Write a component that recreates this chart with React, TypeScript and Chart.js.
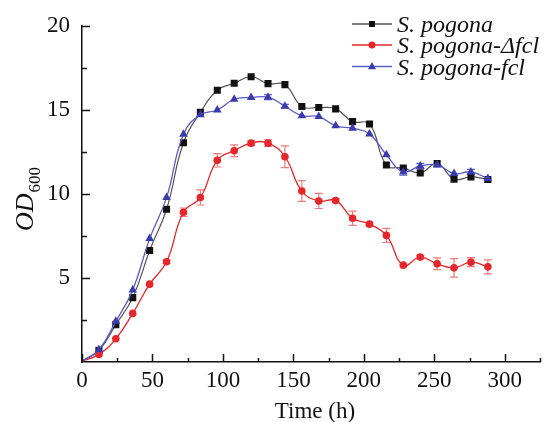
import { useEffect, useRef } from 'react';
import { Chart, registerables } from 'chart.js';
Chart.register(...registerables);

const timeH = [0, 12, 24, 36, 48, 60, 72, 84, 96, 108, 120, 132, 144, 156, 168, 180, 192, 204, 216, 228, 240, 252, 264, 276, 288];
const pogona = [0.05, 0.69, 2.22, 3.83, 6.63, 9.09, 13.04, 14.85, 16.17, 16.58, 16.97, 16.56, 16.5, 15.2, 15.14, 15.06, 14.3, 14.16, 11.72, 11.54, 11.25, 11.8, 10.88, 11.01, 10.86];
const deltaFcl = [0.05, 0.45, 1.38, 2.89, 4.63, 5.96, 8.91, 9.79, 12.0, 12.57, 13.02, 13.02, 12.21, 10.17, 9.58, 9.6, 8.55, 8.2, 7.53, 5.76, 6.24, 5.84, 5.6, 5.94, 5.66];
const deltaFclErr = [0, 0, 0, 0, 0, 0.1, 0.25, 0.45, 0.4, 0.35, 0.15, 0.2, 0.65, 0.62, 0.45, 0.12, 0.42, 0.1, 0.42, 0, 0.1, 0.35, 0.55, 0.27, 0.42];
const fcl = [0.05, 0.73, 2.42, 4.29, 7.34, 9.78, 13.55, 14.71, 14.99, 15.63, 15.73, 15.75, 15.22, 14.65, 14.6, 14.05, 13.9, 13.57, 12.33, 11.31, 11.66, 11.72, 11.21, 11.31, 10.91];
const fclErr = [0, 0, 0, 0, 0, 0, 0, 0, 0, 0, 0, 0.15, 0.1, 0, 0, 0, 0, 0, 0, 0.2, 0.15, 0, 0, 0.15, 0];
const seriesNames = ['S. pogona', 'S. pogona-\u0394fcl', 'S. pogona-fcl'];
const xTickLabels = [0, 50, 100, 150, 200, 250, 300];
const yTickLabels = [5, 10, 15, 20];
const xMinorTicks = [25, 75, 125, 175, 225, 275, 325];
const yMinorTicks = [2.5, 7.5, 12.5, 17.5];

const FONT = '"Liberation Serif", "Times New Roman", serif';
const BLACK = '#111111';
const BLACK_LINE = '#555555';
const RED = '#e5262a';
const RED_ERR = '#ee7a7c';
const BLUE = '#3a3cae';
const BLUE_LINE = '#5a5cc8';

function drawMarker(ctx: CanvasRenderingContext2D, style: string, x: number, y: number, r: number, color: string) {
  ctx.save();
  ctx.fillStyle = color;
  ctx.beginPath();
  if (style === 'rect') {
    ctx.rect(x - r, y - r, 2 * r, 2 * r);
  } else if (style === 'circle') {
    ctx.arc(x, y, r, 0, Math.PI * 2);
  } else {
    ctx.moveTo(x, y - r * 1.1);
    ctx.lineTo(x + r, y + r * 0.7);
    ctx.lineTo(x - r, y + r * 0.7);
    ctx.closePath();
  }
  ctx.fill();
  ctx.restore();
}

export default function App() {
  const ref = useRef<HTMLCanvasElement>(null);
  useEffect(() => {
    if (!ref.current) return;
    const mk = (vals: number[]) => timeH.map((t, i) => ({ x: t, y: vals[i] }));
    const hideFirst = (r: number) => (c: any) => (c.dataIndex === 0 ? 0 : r);

    const errPlugin = {
      id: 'errbars',
      beforeDatasetsDraw(chart: any) {
        const { ctx, scales } = chart;
        const sets: [number[], number[], string][] = [
          [deltaFcl, deltaFclErr, RED_ERR],
          [fcl, fclErr, BLUE_LINE],
        ];
        ctx.save();
        ctx.lineWidth = 1.2;
        sets.forEach(([vals, errs, color]) => {
          ctx.strokeStyle = color;
          timeH.forEach((t, i) => {
            const e = errs[i];
            if (!e) return;
            const x = scales.x.getPixelForValue(t);
            const y1 = scales.y.getPixelForValue(vals[i] - e);
            const y2 = scales.y.getPixelForValue(vals[i] + e);
            ctx.beginPath();
            ctx.moveTo(x, y1); ctx.lineTo(x, y2);
            ctx.moveTo(x - 4, y1); ctx.lineTo(x + 4, y1);
            ctx.moveTo(x - 4, y2); ctx.lineTo(x + 4, y2);
            ctx.stroke();
          });
        });
        ctx.restore();
      },
    };

    const decoPlugin = {
      id: 'deco',
      afterDraw(chart: any) {
        const { ctx, scales, chartArea } = chart;
        ctx.save();
        // inward ticks
        ctx.strokeStyle = BLACK;
        ctx.lineWidth = 1.5;
        ctx.beginPath();
        xTickLabels.forEach((v) => {
          const x = Math.round(scales.x.getPixelForValue(v)) + 0.5;
          ctx.moveTo(x, chartArea.bottom); ctx.lineTo(x, chartArea.bottom - 8);
        });
        xMinorTicks.forEach((v) => {
          const x = Math.round(scales.x.getPixelForValue(v)) + 0.5;
          ctx.moveTo(x, chartArea.bottom); ctx.lineTo(x, chartArea.bottom - 4);
        });
        yTickLabels.forEach((v) => {
          const y = Math.round(scales.y.getPixelForValue(v)) + 0.5;
          ctx.moveTo(chartArea.left, y); ctx.lineTo(chartArea.left + 8, y);
        });
        yMinorTicks.forEach((v) => {
          const y = Math.round(scales.y.getPixelForValue(v)) + 0.5;
          ctx.moveTo(chartArea.left, y); ctx.lineTo(chartArea.left + 5, y);
        });
        ctx.stroke();

        // axis titles
        ctx.fillStyle = BLACK;
        ctx.textBaseline = 'alphabetic';
        ctx.textAlign = 'center';
        ctx.font = `23px ${FONT}`;
        ctx.fillText('Time (h)', 315, 418);

        ctx.save();
        ctx.translate(33, 231);
        ctx.rotate(-Math.PI / 2);
        ctx.textAlign = 'left';
        ctx.font = `italic 26px ${FONT}`;
        ctx.fillText('OD', 0, 0);
        const w = ctx.measureText('OD').width;
        ctx.font = `17px ${FONT}`;
        ctx.fillText('600', w + 1, 7);
        ctx.restore();

        // legend
        const rows = [24, 45, 66.5];
        const lineCols = [BLACK_LINE, RED, BLUE_LINE];
        const markCols = [BLACK, RED, BLUE];
        const styles = ['rect', 'circle', 'triangle'];
        const sizes = [3, 3.5, 4];
        rows.forEach((ry, i) => {
          ctx.strokeStyle = lineCols[i];
          ctx.lineWidth = 1.3;
          ctx.beginPath();
          ctx.moveTo(352, ry); ctx.lineTo(392, ry);
          ctx.stroke();
          drawMarker(ctx, styles[i], 372, ry, sizes[i], markCols[i]);
          ctx.fillStyle = BLACK;
          ctx.textAlign = 'left';
          ctx.font = `italic 24px ${FONT}`;
          ctx.fillText(seriesNames[i], 397, ry + 8);
        });
        ctx.restore();
      },
    };

    const chart = new Chart(ref.current, {
      type: 'line',
      data: {
        datasets: [
          {
            label: seriesNames[0], data: mk(pogona), order: 2,
            borderColor: BLACK_LINE, borderWidth: 1.2, backgroundColor: BLACK,
            pointStyle: 'rect', pointRadius: hideFirst(5) as any, pointBackgroundColor: BLACK, pointBorderWidth: 0,
            tension: 0.45,
          },
          {
            label: seriesNames[1], data: mk(deltaFcl), order: 1,
            borderColor: RED, borderWidth: 1.3, backgroundColor: RED,
            pointStyle: 'circle', pointRadius: hideFirst(3.8) as any, pointBackgroundColor: RED, pointBorderWidth: 0,
            tension: 0.45,
          },
          {
            label: seriesNames[2], data: mk(fcl), order: 0,
            borderColor: BLUE_LINE, borderWidth: 1.3, backgroundColor: BLUE,
            pointStyle: 'triangle', pointRadius: hideFirst(5) as any, pointBackgroundColor: BLUE, pointBorderWidth: 0,
            tension: 0.45,
          },
        ],
      },
      options: {
        responsive: false,
        animation: false,
        devicePixelRatio: 1,
        layout: { padding: { top: 22, right: 5, left: 0, bottom: 0 } },
        plugins: { legend: { display: false }, tooltip: { enabled: false } },
        scales: {
          x: {
            type: 'linear', min: 0, max: 325,
            afterBuildTicks: (s: any) => { s.ticks = xTickLabels.map((v) => ({ value: v })); },
            afterFit: (s: any) => { s.height = 60; },
            grid: { display: false, drawTicks: false },
            border: { display: true, color: BLACK, width: 1.5 },
            ticks: { font: { family: FONT, size: 23 }, color: BLACK, padding: 5, maxRotation: 0, autoSkip: false },
          },
          y: {
            type: 'linear', min: 0, max: 20,
            afterBuildTicks: (s: any) => { s.ticks = yTickLabels.map((v) => ({ value: v })); },
            afterFit: (s: any) => { s.width = 82; },
            grid: { display: false, drawTicks: false },
            border: { display: true, color: BLACK, width: 1.5 },
            ticks: { font: { family: FONT, size: 23 }, color: BLACK, padding: 12 },
          },
        },
      },
      plugins: [errPlugin, decoPlugin],
    });
    return () => chart.destroy();
  }, []);
  return (
    <div style={{ position: 'absolute', left: 0, top: 0, width: 545, height: 422, background: '#fff' }}>
      <canvas ref={ref} width={545} height={422} />
    </div>
  );
}
